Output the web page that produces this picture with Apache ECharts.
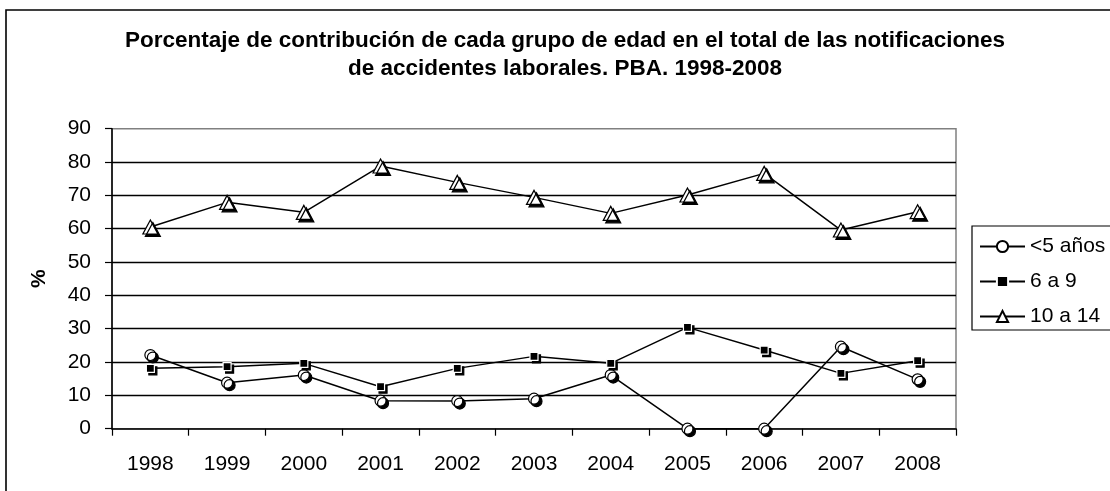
<!DOCTYPE html>
<html>
<head>
<meta charset="utf-8">
<script src="https://cdn.jsdelivr.net/npm/echarts@6/dist/echarts.min.js"></script>
<style>html,body{margin:0;padding:0;background:#fff;}#c{width:1110px;height:491px;}</style>
</head>
<body>
<div id="c"></div>
<script>
var years = ['1998','1999','2000','2001','2002','2003','2004','2005','2006','2007','2008'];
var menos5 = [22.1, 13.8, 16.1, 8.4, 8.3, 9.0, 16.1, 0, 0, 24.6, 14.8];
var de6a9 = [18.1, 18.6, 19.6, 12.6, 18.1, 21.7, 19.6, 30.4, 23.6, 16.6, 20.4];
var de10a14 = [60.5, 67.9, 64.9, 78.8, 73.9, 69.4, 64.6, 70.1, 76.6, 59.6, 65.1];
var seriesNames = ['<5 años', '6 a 9', '10 a 14'];
var titleLines = ['Porcentaje de contribución de cada grupo de edad en el total de las notificaciones', 'de accidentes laborales. PBA. 1998-2008'];

var FONT = "'Liberation Sans', Arial, sans-serif";
var shadow = {shadowBlur: 0, shadowOffsetX: 2.5, shadowOffsetY: 2.5, shadowColor: '#000'};
function mk(name, data, symbol, size, fill, border) {
  return {
    name: name, type: 'line', data: data, symbol: symbol, symbolSize: size,
    showAllSymbol: true, clip: false,
    lineStyle: {color: '#000', width: 1.5},
    itemStyle: Object.assign({color: fill, borderColor: border, borderWidth: 1.2}, shadow),
    emphasis: {disabled: true},
    animation: false
  };
}
var chart = echarts.init(document.getElementById('c'), null, {renderer: 'canvas'});
chart.setOption({
  animation: false,
  textStyle: {fontFamily: FONT},
  title: {
    text: titleLines.join('\n'),
    left: 560, textAlign: 'center', top: 22,
    textStyle: {fontFamily: FONT, fontSize: 22.5, fontWeight: 'bold', color: '#000', lineHeight: 28}
  },
  graphic: [{
    type: 'rect', silent: true, z: -1,
    shape: {x: 6, y: 10, width: 1300, height: 700},
    style: {fill: 'none', stroke: '#000', lineWidth: 1.6}
  }, {
    type: 'rect', silent: true, z: 10,
    shape: {x: 972, y: 226, width: 300, height: 104},
    style: {fill: 'none', stroke: '#000', lineWidth: 1.2}
  }],
  legend: {
    left: 972, top: 226, orient: 'vertical',
    padding: [10, 0, 8, 7],
    itemWidth: 45, itemHeight: 14, itemGap: 14,
    borderWidth: 0,
    textStyle: {fontFamily: FONT, fontSize: 21, color: '#000', padding: [0, 0, 0, 0]},
    itemStyle: {shadowBlur: 0, shadowOffsetX: 0, shadowOffsetY: 0, shadowColor: 'rgba(0,0,0,0)'},
    data: seriesNames
  },
  grid: {left: 112, right: 154, top: 128.7, bottom: 62.3, show: true, borderColor: '#808080', borderWidth: 1.5, backgroundColor: '#fff'},
  xAxis: {
    type: 'category', data: years, boundaryGap: true,
    axisLine: {lineStyle: {color: '#000', width: 1.5}},
    axisTick: {show: true, length: 7, inside: false, lineStyle: {color: '#000', width: 1.2}},
    axisLabel: {fontFamily: FONT, fontSize: 21, color: '#000', margin: 25},
    splitLine: {show: false}
  },
  yAxis: {
    type: 'value', min: 0, max: 90, interval: 10,
    name: '%', nameLocation: 'middle', nameRotate: 90, nameGap: 62,
    nameTextStyle: {fontFamily: FONT, fontSize: 21, fontWeight: 'bold', color: '#000'},
    axisLine: {show: true, lineStyle: {color: '#000', width: 1.5}},
    axisTick: {show: true, length: 7, lineStyle: {color: '#000', width: 1.2}},
    axisLabel: {fontFamily: FONT, fontSize: 21, color: '#000', margin: 21},
    splitLine: {show: true, showMinLine: false, showMaxLine: false, lineStyle: {color: '#000', width: 1.3}}
  },
  series: [
    mk(seriesNames[0], menos5, 'circle', 11, '#fff', '#000'),
    mk(seriesNames[1], de6a9, 'rect', 8, '#000', '#fff'),
    mk(seriesNames[2], de10a14, 'triangle', [15, 14], '#fff', '#000')
  ]
});
</script>
</body>
</html>
